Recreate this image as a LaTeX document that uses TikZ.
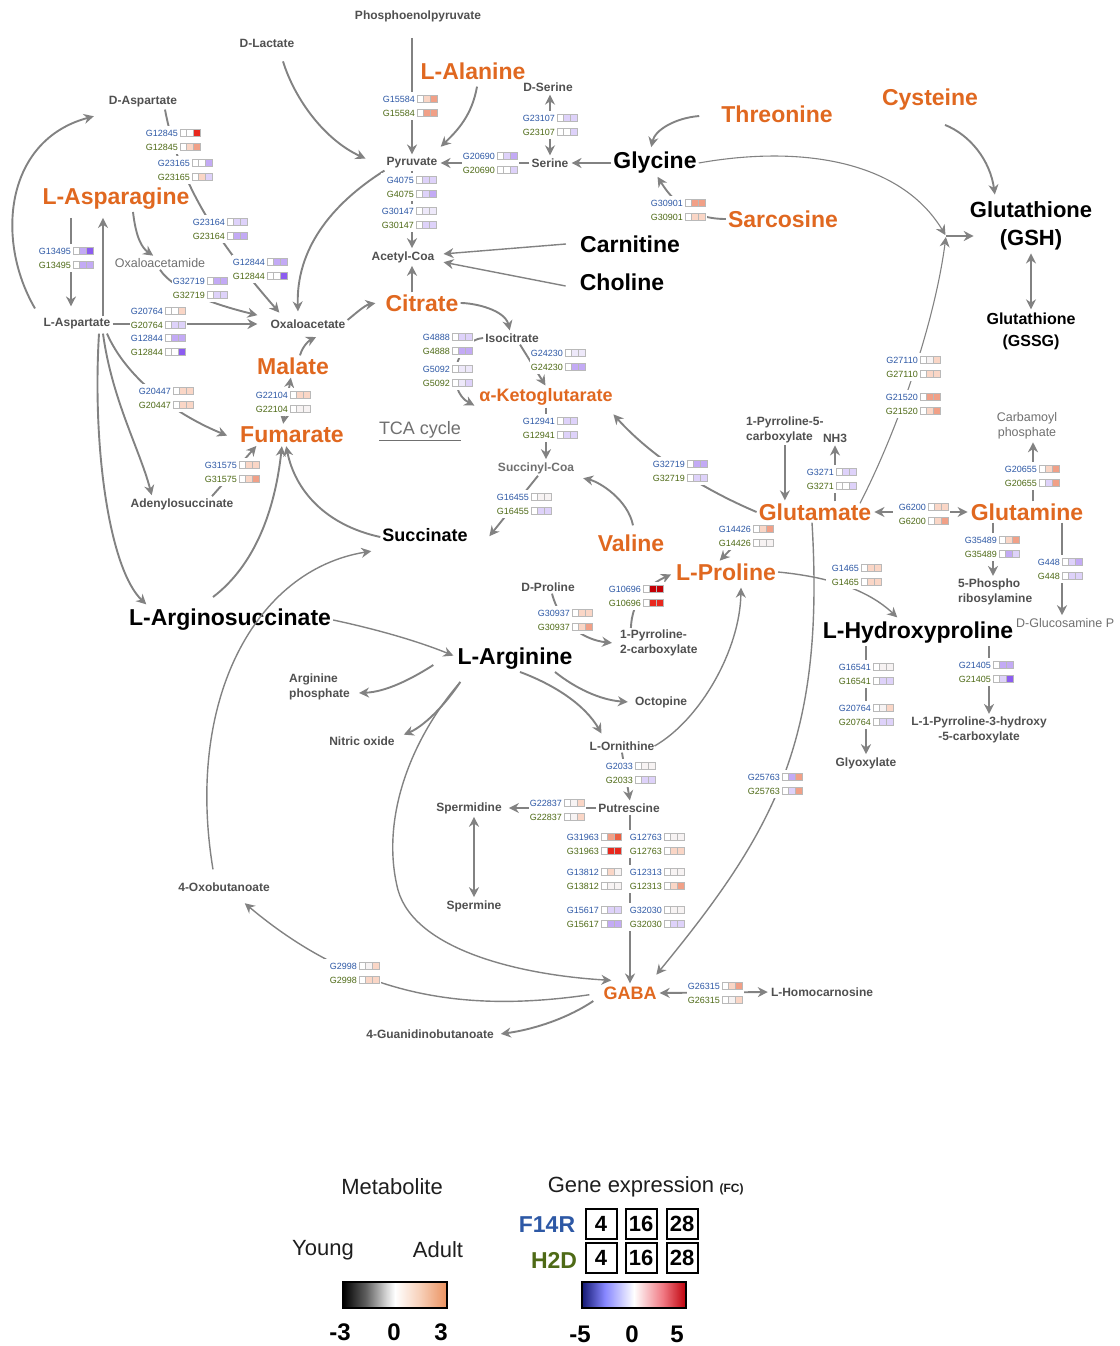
\documentclass[tikz,border=0pt]{standalone}
\usepackage{fontspec}
\setmainfont{Liberation Sans}
\usepackage{tikz}
\usetikzlibrary{arrows.meta,positioning}

\definecolor{metorange}{RGB}{224,104,32}
\definecolor{metgray}{RGB}{80,80,80}
\definecolor{litegray}{RGB}{112,112,112}
\definecolor{arrowgray}{RGB}{130,130,130}
\definecolor{cellgray}{RGB}{185,185,185}
\definecolor{f14r}{RGB}{45,88,165}
\definecolor{h2d}{RGB}{78,106,22}
\definecolor{legdark}{RGB}{30,30,30}
\definecolor{cvw}{RGB}{247,243,243}
\definecolor{cvp}{RGB}{238,233,250}
\definecolor{clp}{RGB}{222,210,250}
\definecolor{cmp}{RGB}{195,170,245}
\definecolor{csp}{RGB}{140,92,240}
\definecolor{clo}{RGB}{250,214,198}
\definecolor{cmo}{RGB}{241,160,135}
\definecolor{cso}{RGB}{236,95,65}
\definecolor{crr}{RGB}{232,40,30}
\definecolor{cdr}{RGB}{195,0,5}
% legend bars
\definecolor{legorange}{RGB}{235,145,95}
\definecolor{legpeach}{RGB}{247,208,185}
\definecolor{leggray}{RGB}{95,95,95}
\definecolor{leglgray}{RGB}{215,215,215}
\definecolor{legnavy}{RGB}{20,25,115}
\definecolor{legblue}{RGB}{135,135,255}
\definecolor{legpink}{RGB}{240,120,130}
\definecolor{legred}{RGB}{190,0,10}
\pgfdeclarehorizontalshading{metshade}{100bp}{color(0bp)=(black); color(25bp)=(black); color(36bp)=(leggray); color(46bp)=(leglgray); color(50bp)=(white); color(62bp)=(legpeach); color(75bp)=(legorange); color(100bp)=(legorange)}
\pgfdeclarehorizontalshading{geneshade}{100bp}{color(0bp)=(legnavy); color(25bp)=(legnavy); color(36bp)=(legblue); color(50bp)=(white); color(64bp)=(legpink); color(75bp)=(legred); color(100bp)=(legred)}

% gene label pair (F14R over H2D) with three fold-change cells each
\newcommand{\genepair}[9]{%
  \fill[white] (#2-35,#3-7) rectangle (#2+22,#3+21);
  \node[gname,text=f14r,anchor=east] (gb#2-#3) at (#2-1.5,#3) {#1};
  \node[gname,text=h2d,anchor=east] (gg#2-#3) at (#2-1.5,#3+14) {#1};
  \foreach \cc [count=\ci from 0] in {#4,#5,#6}
    \draw[cell,fill=\cc] (#2+\ci*6.6,#3-3.5) rectangle ++(6.6,7);
  \foreach \cc [count=\ci from 0] in {#7,#8,#9}
    \draw[cell,fill=\cc] (#2+\ci*6.6,#3+10.5) rectangle ++(6.6,7);
}

\begin{document}
\begin{tikzpicture}[x=1pt,y=-1pt,>={Stealth[length=10pt,width=10pt]},
  met/.style={font=\fontsize{23}{25}\selectfont\bfseries,text=metorange,inner sep=2pt},
  mblk/.style={font=\fontsize{23}{25}\selectfont\bfseries,text=black,inner sep=2pt},
  msml/.style={font=\fontsize{12}{14.5}\selectfont\bfseries,text=metgray,inner sep=2pt},
  mlite/.style={font=\fontsize{12.5}{14.5}\selectfont,text=litegray,inner sep=2pt,align=center},
  gname/.style={font=\fontsize{9}{10}\selectfont,inner sep=0.5pt},
  cell/.style={draw=cellgray,line width=0.5pt},
  arr/.style={draw=arrowgray,line width=1.9pt,->,shorten >=1pt},
  arrboth/.style={arr,<->,shorten <=1pt},
  thinarr/.style={arr,line width=1.1pt},
  midarr/.style={arr,line width=1.4pt},
  legtxt/.style={font=\fontsize{22}{24}\selectfont,text=legdark,inner sep=1pt},
  legnum/.style={font=\fontsize{24}{26}\selectfont\bfseries,inner sep=1pt},
  legid/.style={font=\fontsize{23}{25}\selectfont\bfseries,inner sep=1pt},
  daybox/.style={draw,line width=2pt,minimum width=31pt,minimum height=30pt,inner sep=0pt,font=\fontsize{22}{22}\selectfont\bfseries},
  legbar/.style={draw,line width=1.8pt,minimum width=104pt,minimum height=26pt,inner sep=0pt}]
\useasboundingbox (0,0) rectangle (1119,1346);

% metabolites
\node[msml] (pep) at (418,16) {Phosphoenolpyruvate};
\node[msml] (dlac) at (267,43) {D-Lactate};
\node[met] (ala) at (473,71) {L-Alanine};
\node[msml] (dser) at (548,87) {D-Serine};
\node[msml] (dasp) at (143,102) {D-Aspartate};
\node[met] (thr) at (777,114) {Threonine};
\node[met] (cys) at (930,100) {Cysteine};
\node[msml] (pyr) at (412,163) {Pyruvate};
\node[msml] (ser) at (550,163) {Serine};
\node[mblk] (gly) at (655,163) {Glycine};
\node[mblk,font=\fontsize{22}{28}\selectfont\bfseries,align=center] (gsh) at (1031,226) {Glutathione\\(GSH)};
\node[met] (asn) at (116,199) {L-Asparagine};
\node[met] (sar) at (783,219) {Sarcosine};
\node[mblk] (car) at (630,244) {Carnitine};
\node[mblk] (cho) at (622,282) {Choline};
\node[msml] (acoa) at (403,257) {Acetyl-Coa};
\node[mlite] (oxam) at (160,263) {Oxaloacetamide};
\node[msml] (asp) at (77,324) {L-Aspartate};
\node[msml] (oaa) at (308,324) {Oxaloacetate};
\node[met] (cit) at (422,303) {Citrate};
\node[mblk,font=\fontsize{16}{22}\selectfont\bfseries,align=center] (gssg) at (1031,331) {Glutathione\\(GSSG)};
\node[msml] (icit) at (512,338) {Isocitrate};
\node[met] (mal) at (293,366) {Malate};
\node[met,font=\fontsize{18}{20}\selectfont\bfseries] (akg) at (546,397) {α-Ketoglutarate};
\node[font=\fontsize{18}{20}\selectfont,text=litegray,inner sep=1pt] (tca) at (420,431) {\underline{TCA cycle}};
\node[met] (fum) at (292,435) {Fumarate};
\node[msml,align=left,anchor=west] (p5c) at (744,430) {1-Pyrroline-5-\\carboxylate};
\node[msml] (nh3) at (835,438) {NH3};
\node[mlite] (cbp) at (1027,426) {Carbamoyl\\phosphate};
\node[msml,text=litegray] (scoa) at (536,468) {Succinyl-Coa};
\node[mblk,font=\fontsize{18}{20}\selectfont\bfseries] (succ) at (425,535) {Succinate};
\node[msml] (adsu) at (182,504) {Adenylosuccinate};
\node[met] (glu) at (815,512) {Glutamate};
\node[met] (gln) at (1027,512) {Glutamine};
\node[met] (val) at (631,543) {Valine};
\node[met] (pro) at (726,572) {L-Proline};
\node[msml] (dpro) at (548,587) {D-Proline};
\node[mblk] (argsu) at (230,620) {L-Arginosuccinate};
\node[mblk] (hyp) at (918,633) {L-Hydroxyproline};
\node[mlite,anchor=west] (glcn) at (1014,623) {D-Glucosamine P};
\node[msml,align=left,anchor=west] (prib) at (956,592) {5-Phospho\\ribosylamine};
\node[msml,align=left,anchor=west] (p2c) at (618,643) {1-Pyrroline-\\2-carboxylate};
\node[mblk] (arg) at (515,659) {L-Arginine};
\node[msml,align=left,anchor=west] (argp) at (287,687) {Arginine\\phosphate};
\node[msml] (oct) at (661,702) {Octopine};
\node[msml] (no) at (362,741) {Nitric oxide};
\node[msml] (orn) at (622,746) {L-Ornithine};
\node[msml,align=center] (p3h) at (979,730) {L-1-Pyrroline-3-hydroxy\\-5-carboxylate};
\node[msml] (glyox) at (866,763) {Glyoxylate};
\node[msml] (spd) at (469,808) {Spermidine};
\node[msml] (put) at (629,808) {Putrescine};
\node[msml] (oxob) at (224,887) {4-Oxobutanoate};
\node[msml] (spm) at (474,906) {Spermine};
\node[met,font=\fontsize{18}{20}\selectfont\bfseries] (gaba) at (630,993) {GABA};
\node[msml] (hcar) at (822,992) {L-Homocarnosine};
\node[msml] (gbut) at (430,1034) {4-Guanidinobutanoate};
\coordinate (gjn) at (946,236);

% pyruvate / glycine / glutathione
\draw[arr] ([yshift=-14pt]pyr.north |- pep.south) -- (pyr.north);
\draw[arr] ([xshift=4pt,yshift=-5pt]ala.south) .. controls (472,115) and (458,130) .. ([xshift=28pt,yshift=8pt]pyr.north);
\draw[arr] ([xshift=16pt,yshift=-12pt]dlac.south) .. controls (295,100) and (325,140) .. ([xshift=-18pt,yshift=4pt]pyr.west);
\draw[arrboth] (ser.north) -- (ser.north |- dser.south);
\draw[arr] (ser.west) -- (pyr.east);
\draw[arr] (gly.west) -- (ser.east);
\draw[arr] ([xshift=-20pt,yshift=-2pt]thr.west) .. controls (675,118) and (655,130) .. ([xshift=-4pt,yshift=2pt]gly.north);
\draw[arr] (sar.west) .. controls (690,219) and (672,200) .. ([xshift=2pt]gly.south);
\draw[thinarr] (gly.east) .. controls (800,145) and (900,160) .. (gjn);
\draw[arr] ([xshift=15pt,yshift=-12pt]cys.south) .. controls (970,135) and (990,160) .. ([xshift=-36pt,yshift=4pt]gsh.north);
\draw[arr] (gjn) -- ([xshift=7pt]gsh.west |- gjn);
\draw[thinarr] ([xshift=45pt,yshift=-2pt]glu.north) .. controls (900,425) and (935,320) .. (gjn);
\draw[arrboth] (gsh.south) -- (gssg.north);

% acetyl-CoA and TCA cycle
\draw[arr] (pyr.south) -- (pyr.south |- acoa.north);
\draw[midarr] ([xshift=-12pt]car.west) -- ([xshift=6pt,yshift=3pt]acoa.east);
\draw[midarr] ([xshift=-12pt,yshift=-4pt]cho.west) -- ([xshift=6pt,yshift=-5pt]acoa.east);
\draw[arr] (pyr.south |- cit.north) -- (pyr.south |- acoa.south);
\draw[arr] ([yshift=4pt]oaa.east) .. controls (355,314) and (365,305) .. ([xshift=-7pt]cit.west);
\draw[arr] (cit.east) .. controls (475,303) and (505,310) .. ([xshift=-2pt]icit.north);
\draw[arr] ([xshift=8pt]icit.south) -- (akg.north);
\draw[arr] (icit.west) .. controls (455,340) and (445,390) .. ([xshift=-2pt,yshift=-9pt]akg.west);
\draw[arr] (akg.south) -- (akg.south |- scoa.north);
\draw[arr] ([xshift=2pt]scoa.south) -- ([xshift=19pt,yshift=-2pt]succ.east);
\draw[arr] ([xshift=2pt,yshift=7pt]val.north) .. controls (628,500) and (600,482) .. ([xshift=6pt,yshift=-10pt]scoa.east);
\draw[arr] (glu.west) .. controls (700,488) and (650,455) .. ([xshift=-2pt,yshift=-6pt]akg.south east);
\draw[arr] ([xshift=-17pt,yshift=10pt]argsu.north) .. controls (255,565) and (275,510) .. ([xshift=-10pt]fum.south);
\draw[arr] ([yshift=-2pt]succ.west) .. controls (325,525) and (295,490) .. ([xshift=-6pt]fum.south);
\draw[arrboth] ([xshift=-9pt]fum.north) -- ([xshift=-2pt]mal.south);
\draw[arr] ([xshift=7pt]mal.north) .. controls (303,345) and (310,340) .. ([xshift=9pt,yshift=-6pt]oaa.south);

% aspartate / asparagine
\draw[arr] (asp.east) -- ([xshift=-10pt]oaa.west);
\draw[arr,shorten <=6pt,shorten >=10pt] ([xshift=-45pt]asn.south) -- ([xshift=-45pt]asn.south |- asp.north);
\draw[arr,shorten >=6pt] ([xshift=26pt]asp.north) -- ([xshift=-13pt]asn.south);
\draw[arr] ([xshift=-42pt,yshift=8pt]asp.north) .. controls (-5,240) and (5,140) .. ([xshift=-12pt,yshift=-14pt]dasp.west);
\draw[arr] ([xshift=22pt]dasp.south) .. controls (180,190) and (225,250) .. ([xshift=-28pt,yshift=4pt]oaa.north);
\draw[arr] ([xshift=17pt]asn.south) .. controls (136,238) and (142,248) .. ([xshift=-6pt]oxam.north);
\draw[arr] (oxam.south) .. controls (175,292) and (220,306) .. ([xshift=-10pt,yshift=2pt]oaa.north west);
\draw[arr] (pyr.south west) .. controls (330,205) and (296,250) .. ([xshift=-10pt,yshift=5pt]oaa.north);
\draw[arr] ([xshift=22pt,yshift=-2pt]asp.south) .. controls (92,450) and (110,570) .. ([xshift=-83pt,yshift=2pt]argsu.north);
\draw[arr] ([xshift=26pt,yshift=-2pt]asp.south) .. controls (112,400) and (140,450) .. ([xshift=-30pt]adsu.north);
\draw[arr] ([xshift=30pt,yshift=-2pt]asp.south) .. controls (125,375) and (170,412) .. ([xshift=-10pt,yshift=-1pt]fum.west);
\draw[arr] ([xshift=30pt]adsu.north) -- ([xshift=-35pt]fum.south);

% glutamate / glutamine / proline
\draw[arr] (p5c.south) -- (p5c.south |- glu.north);
\draw[arr] (glu.north -| nh3.south) -- (nh3.south);
\draw[arrboth] (glu.east) -- (gln.west);
\draw[arr] ([xshift=6pt]gln.north) -- ([xshift=6pt]cbp.south);
\draw[arr] ([xshift=-34pt]gln.south) -- ([xshift=-34pt]gln.south |- prib.north);
\draw[arr] ([xshift=35pt]gln.south) -- ([xshift=35pt]gln.south |- glcn.north);
\draw[arr] (glu.south west) -- ([xshift=-7pt]pro.north);
\draw[midarr] (pro.east) .. controls (830,577) and (868,590) .. ([xshift=-20pt,yshift=2pt]hyp.north);
\draw[arr] (glyox.north |- hyp.south) -- (glyox.north);
\draw[arr] ([xshift=10pt]p3h.north |- hyp.south) -- ([xshift=10pt]p3h.north);
\draw[midarr] ([xshift=-3pt]glu.south) .. controls (825,740) and (775,830) .. ([xshift=-3pt,yshift=9pt]gaba.north east);
\draw[midarr] ([xshift=-2pt]orn.east) .. controls (700,720) and (740,650) .. ([xshift=15pt,yshift=-4pt]pro.south);
\draw[arr] ([xshift=4pt]dpro.south) .. controls (560,625) and (585,640) .. ([xshift=-5pt]p2c.west);
\draw[arr] ([xshift=-28pt]p2c.north) .. controls (632,600) and (648,585) .. ([xshift=-2pt,yshift=-2pt]pro.west);

% arginine / GABA
\draw[midarr] (argsu.east) .. controls (380,630) and (420,642) .. ([xshift=-1pt,yshift=3pt]arg.west);
\draw[arr] ([xshift=-22pt,yshift=-6pt]arg.west) .. controls (410,680) and (385,692) .. ([xshift=6pt,yshift=-6pt]argp.east);
\draw[arr] ([xshift=5pt,yshift=-10pt]arg.south west) .. controls (440,712) and (420,728) .. ([xshift=6pt,yshift=6pt]no.east);
\draw[midarr] ([xshift=5pt,yshift=-10pt]arg.south west) .. controls (410,740) and (380,820) .. (398,890) .. controls (415,950) and (520,975) .. ([xshift=11pt,yshift=4pt]gaba.north west);
\draw[arr] ([xshift=5pt]arg.south) .. controls (555,685) and (585,705) .. ([xshift=-20pt,yshift=5pt]orn.north);
\draw[arr] ([xshift=40pt]arg.south) .. controls (575,688) and (600,700) .. ([xshift=-4pt]oct.west);
\draw[arr] (orn.south) -- ([xshift=1pt]put.north);
\draw[arr] (put.west) -- ([xshift=4pt]spd.east);
\draw[arrboth] (spm.north |- spd.south) -- (spm.north);
\draw[arr] (put.south -| gaba.north) -- (gaba.north);
\draw[arrboth] (gaba.east) -- (hcar.west);
\draw[midarr] ([xshift=-11pt,yshift=11pt]oxob.north) .. controls (185,700) and (255,570) .. ([xshift=-8pt,yshift=-16pt]succ.west);
\draw[midarr,shorten <=12pt] (gaba.west) .. controls (470,1012) and (360,1000) .. ([xshift=20pt,yshift=-9pt]oxob.south);
\draw[arr] ([xshift=-8pt,yshift=-8pt]gaba.west) .. controls (565,1020) and (530,1030) .. ([xshift=4pt]gbut.east);

% genes
\genepair{G15584}{417}{99}{white}{clo}{cmo}{white}{cmo}{cmo}
\genepair{G12845}{180}{133}{white}{white}{crr}{white}{clo}{cmo}
\genepair{G23107}{557}{118}{white}{clp}{clp}{white}{white}{clp}
\genepair{G23165}{192}{163}{white}{white}{cmp}{white}{clo}{clp}
\genepair{G20690}{497}{156}{white}{clp}{cmp}{white}{white}{clp}
\genepair{G4075}{416}{180}{white}{clp}{clp}{white}{clp}{cmp}
\genepair{G30147}{416}{211}{white}{cvp}{cvp}{white}{clp}{clp}
\genepair{G30901}{685}{203}{white}{cmo}{cmo}{white}{clo}{clo}
\genepair{G23164}{227}{222}{white}{clp}{clp}{white}{cmp}{cmp}
\genepair{G13495}{73}{251}{white}{cmp}{csp}{white}{cmp}{cmp}
\genepair{G12844}{267}{262}{white}{cmp}{cmp}{white}{white}{csp}
\genepair{G32719}{207}{281}{white}{cmp}{cmp}{white}{clp}{clp}
\genepair{G20764}{165}{311}{white}{white}{clo}{white}{clp}{clp}
\genepair{G12844}{165}{338}{white}{cmp}{cmp}{white}{white}{csp}
\genepair{G4888}{452}{337}{white}{clp}{clp}{white}{cmp}{cmp}
\genepair{G24230}{565}{353}{white}{cvp}{cvp}{white}{cmp}{cmp}
\genepair{G5092}{452}{369}{white}{cvp}{cvp}{white}{cvp}{clp}
\genepair{G20447}{173}{391}{white}{clo}{clo}{white}{clo}{clo}
\genepair{G22104}{290}{395}{white}{clo}{clo}{white}{cvw}{cvw}
\genepair{G12941}{557}{421}{white}{clp}{clp}{white}{clp}{clp}
\genepair{G31575}{239}{465}{white}{clo}{clo}{white}{clo}{cmo}
\genepair{G32719}{687}{464}{white}{cmp}{cmp}{white}{clp}{clp}
\genepair{G16455}{531}{497}{white}{cvw}{cvw}{white}{clp}{clp}
\genepair{G27110}{920}{360}{white}{cvw}{clo}{white}{clo}{clo}
\genepair{G21520}{920}{397}{white}{cmo}{cmo}{white}{clo}{cmo}
\genepair{G3271}{836}{472}{white}{clp}{clp}{white}{white}{clp}
\genepair{G20655}{1039}{469}{white}{clo}{cmo}{white}{clp}{cmo}
\genepair{G6200}{928}{507}{white}{clo}{clo}{white}{clo}{cmo}
\genepair{G14426}{753}{529}{white}{clo}{cmo}{white}{cvw}{cvw}
\genepair{G35489}{999}{540}{white}{clo}{cmo}{white}{cmp}{clp}
\genepair{G1465}{861}{568}{white}{clo}{clo}{white}{clo}{clo}
\genepair{G448}{1062}{562}{white}{clp}{cmp}{white}{clp}{clp}
\genepair{G10696}{643}{589}{white}{cdr}{cdr}{white}{crr}{crr}
\genepair{G30937}{572}{613}{white}{clo}{clo}{white}{clo}{cmo}
\genepair{G16541}{873}{667}{white}{cvw}{cvw}{white}{clp}{clp}
\genepair{G21405}{993}{665}{white}{cmp}{cmp}{white}{clp}{csp}
\genepair{G20764}{873}{708}{white}{cvw}{clo}{white}{clp}{clp}
\genepair{G2033}{635}{766}{white}{cvw}{cvw}{white}{clp}{clp}
\genepair{G25763}{782}{777}{white}{cmp}{cmo}{white}{clp}{cmo}
\genepair{G22837}{564}{803}{white}{cvw}{clo}{white}{cvw}{clo}
\genepair{G31963}{601}{837}{white}{cmo}{cso}{white}{crr}{crr}
\genepair{G12763}{664}{837}{white}{cvw}{cvw}{white}{clo}{clo}
\genepair{G13812}{601}{872}{white}{clo}{cvw}{white}{cvw}{cvw}
\genepair{G12313}{664}{872}{white}{cvw}{cvw}{white}{clo}{cmo}
\genepair{G15617}{601}{910}{white}{clp}{clp}{white}{cmp}{cmp}
\genepair{G32030}{664}{910}{white}{cvw}{cvw}{white}{clp}{clp}
\genepair{G2998}{359}{966}{white}{cvw}{clo}{white}{clo}{clo}
\genepair{G26315}{722}{986}{white}{clo}{cmo}{white}{cvw}{clo}

% legend
\node[legtxt] (metleg) at (392,1187) {Metabolite};
\node[legtxt] (geneleg) at (631,1187) {Gene expression};
\node[font=\fontsize{12}{14}\selectfont\bfseries,text=legdark,inner sep=1pt,right=3pt of geneleg.base east,anchor=base west] (fcleg) {(FC)};
\node[legtxt] (young) at (323,1250) {Young};
\node[legtxt] (adult) at (438,1250) {Adult};
\node[legbar,shading=metshade] (metbar) at (395,1295) {};
\node[legnum] (mlo) at (340,1332) {-3};
\node[legnum] (mmid) at (394,1332) {0};
\node[legnum] (mhi) at (441,1332) {3};
\node[legid,text=f14r] (f14rleg) at (547,1225) {F14R};
\node[legid,text=h2d] (h2dleg) at (554,1260) {H2D};
\foreach \d/\bx in {4/601,16/641,28/682} {
  \node[daybox] (fd\d) at (\bx,1224) {\d};
  \node[daybox] (hd\d) at (\bx,1258) {\d};
}
\node[legbar,shading=geneshade] (genebar) at (634,1295) {};
\node[legnum] (glo) at (580,1334) {-5};
\node[legnum] (gmid) at (632,1334) {0};
\node[legnum] (ghi) at (677,1334) {5};
\end{tikzpicture}
\end{document}
